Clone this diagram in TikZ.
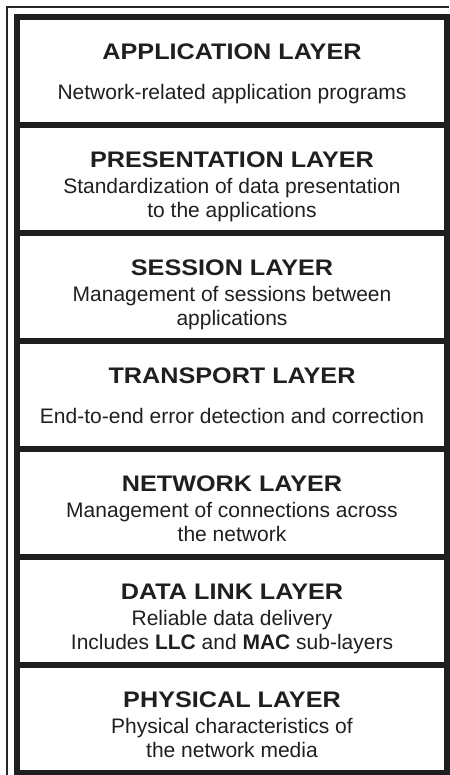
\documentclass[tikz,border=0pt]{standalone}
\usepackage{fontspec}
\setmainfont{Liberation Sans}
\newfontfamily\titlefont[FakeStretch=1.12]{Liberation Sans}
\usepackage{tikz}
\usetikzlibrary{positioning}

\begin{document}
\begin{tikzpicture}
  [
    x=1pt, y=-1pt,
    Layer/.style={rectangle, draw=black!88, line width=6pt, minimum width=430pt, minimum height=108pt, outer sep=0pt, inner sep=0pt},
    Title/.style={anchor=base, inner sep=0pt, text=black!88, font=\titlefont\bfseries\fontsize{22.5}{26}\selectfont},
    Desc/.style={anchor=base, inner sep=0pt, align=center, text=black!88, font=\fontsize{21}{24}\selectfont}
  ]
  \useasboundingbox (0,0) rectangle (449,775);
  % Frame
  \draw[line width=1.2pt, black!85] (7,775) -- (7,7) -- (449,7);

  % Layers
  \node[Layer] (app) at (232,71) {};
  \node[Layer, below=0pt of app] (pres) {};
  \node[Layer, below=0pt of pres] (sess) {};
  \node[Layer, below=0pt of sess] (trans) {};
  \node[Layer, below=0pt of trans] (net) {};
  \node[Layer, below=0pt of net] (dll) {};
  \node[Layer, below=0pt of dll] (phys) {};

  % Texts
  \node[Title] (appT) at ([yshift=-42.5pt]app.north) {APPLICATION LAYER};
  \node[Desc] (appD) at ([yshift=-82.5pt]app.north) {Network-related application programs};
  \node[Title] (presT) at ([yshift=-42.5pt]pres.north) {PRESENTATION LAYER};
  \node[Desc] (presD) at ([yshift=-92.5pt]pres.north) {Standardization of data presentation\\to the applications};
  \node[Title] (sessT) at ([yshift=-42.5pt]sess.north) {SESSION LAYER};
  \node[Desc] (sessD) at ([yshift=-92.5pt]sess.north) {Management of sessions between\\applications};
  \node[Title] (transT) at ([yshift=-42.5pt]trans.north) {TRANSPORT LAYER};
  \node[Desc] (transD) at ([yshift=-82.5pt]trans.north) {End-to-end error detection and correction};
  \node[Title] (netT) at ([yshift=-42.5pt]net.north) {NETWORK LAYER};
  \node[Desc] (netD) at ([yshift=-92.5pt]net.north) {Management of connections across\\the network};
  \node[Title] (dllT) at ([yshift=-42.5pt]dll.north) {DATA LINK LAYER};
  \node[Desc] (dllD) at ([yshift=-92.5pt]dll.north) {Reliable data delivery\\Includes \textbf{LLC} and \textbf{MAC} sub-layers};
  \node[Title] (physT) at ([yshift=-42.5pt]phys.north) {PHYSICAL LAYER};
  \node[Desc] (physD) at ([yshift=-92.5pt]phys.north) {Physical characteristics of\\the network media};

\end{tikzpicture}
\end{document}
